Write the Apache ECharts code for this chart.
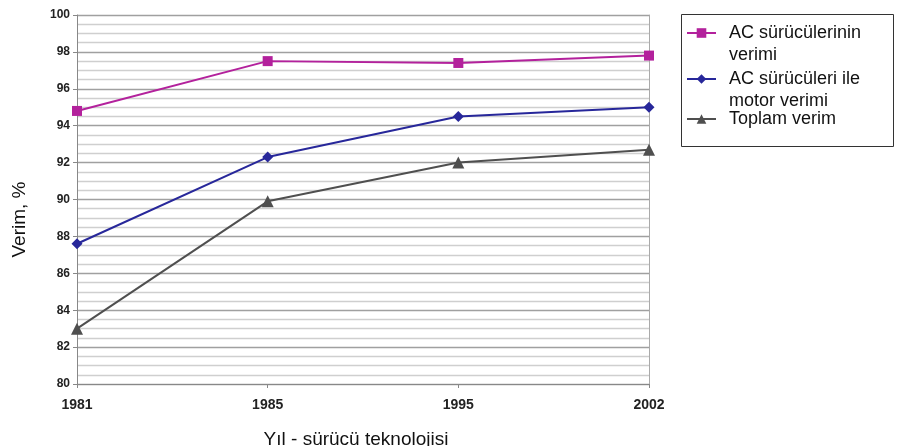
<!DOCTYPE html>
<html>
<head>
<meta charset="utf-8">
<script src="https://cdn.jsdelivr.net/npm/echarts@6/dist/echarts.min.js"></script>
<style>
  html, body { margin: 0; padding: 0; background: #fff; }
  #chart { width: 899px; height: 446px; }
</style>
</head>
<body>
<div id="chart"></div>
<script>
// Efficiency of AC drives over the years
const years = ['1981', '1985', '1995', '2002'];
const seriesNames = ['AC sürücülerinin verimi', 'AC sürücüleri ile motor verimi', 'Toplam verim'];
const legendLines = [
  ['AC sürücülerinin', 'verimi'],
  ['AC sürücüleri ile', 'motor verimi'],
  ['Toplam verim']
];
const driveEff = [94.8, 97.5, 97.4, 97.8];
const driveMotorEff = [87.6, 92.3, 94.5, 95.0];
const totalEff = [83.0, 89.9, 92.0, 92.7];
const yMin = 80, yMax = 100, yStep = 2;

const FONT = '"Liberation Sans", Arial, sans-serif';
const colors = ['#b3219c', '#27279a', '#4f4f4f'];
const symbols = ['rect', 'diamond', 'triangle'];
const symbolSizes = [10, 11, 12];
const values = [driveEff, driveMotorEff, totalEff];

// Legend text is centred on its icon, so a blank line above (and below for
// single-line entries) keeps the first line level with the icon.
function legendText(i) {
  const lines = legendLines[i];
  return lines.length > 1 ? '\n' + lines.join('\n') : '\n' + lines[0] + '\n';
}

const chart = echarts.init(document.getElementById('chart'), null, { renderer: 'canvas' });
chart.setOption({
  animation: false,
  backgroundColor: '#ffffff',
  grid: { left: 77, right: 250, top: 15, bottom: 62, containLabel: false, outerBoundsMode: 'none' },
  legend: {
    orient: 'vertical',
    left: 686,
    top: 0,
    padding: 0,
    itemGap: -20,
    itemWidth: 29,
    itemHeight: 12,
    selectedMode: false,
    data: seriesNames.map((n, i) => ({
      name: n,
      textStyle: { lineHeight: legendLines[i].length > 1 ? 22 : 18 }
    })),
    formatter: name => legendText(seriesNames.indexOf(name)),
    textStyle: { fontFamily: FONT, fontSize: 18, color: '#111', lineHeight: 22, padding: [0, 0, 0, 8] }
  },
  graphic: [{
    type: 'rect',
    shape: { x: 681.5, y: 14.5, width: 212, height: 132 },
    style: { fill: 'none', stroke: '#333', lineWidth: 1 }
  }],
  xAxis: {
    type: 'category',
    data: years,
    boundaryGap: false,
    name: 'Yıl - sürücü teknolojisi',
    nameLocation: 'middle',
    nameGap: 46,
    nameTextStyle: { fontFamily: FONT, fontSize: 19, color: '#111', padding: [0, 14, 0, 0] },
    axisLine: { lineStyle: { color: '#888', width: 1 } },
    axisTick: { show: true, alignWithLabel: true, length: 4, lineStyle: { color: '#888' } },
    axisLabel: { fontFamily: FONT, fontSize: 14, fontWeight: 'bold', color: '#222', margin: 14 },
    splitLine: { show: false }
  },
  yAxis: [{
    type: 'value',
    min: yMin,
    max: yMax,
    interval: yStep,
    name: 'Verim, %',
    nameLocation: 'middle',
    nameGap: 48,
    nameRotate: 90,
    nameTextStyle: { fontFamily: FONT, fontSize: 19, color: '#111', padding: [0, 40, 0, 0] },
    axisLine: { show: true, lineStyle: { color: '#888', width: 1 } },
    axisTick: { show: true, length: 4, lineStyle: { color: '#888' } },
    axisLabel: { fontFamily: FONT, fontSize: 12, fontWeight: 'bold', color: '#222', margin: 7 },
    splitLine: { show: true, lineStyle: { color: '#a0a0a0', width: 1.4 } },
    minorTick: { show: false, splitNumber: 4 },
    minorSplitLine: { show: true, lineStyle: { color: '#cfcfcf', width: 1.4 } }
  }, {
    // right edge of the plot frame
    type: 'value',
    min: yMin,
    max: yMax,
    interval: yStep,
    position: 'right',
    axisLine: { show: true, lineStyle: { color: '#aaa', width: 1 } },
    axisTick: { show: false },
    axisLabel: { show: false },
    splitLine: { show: false }
  }],
  series: seriesNames.map((n, i) => ({
    name: n,
    type: 'line',
    data: values[i],
    symbol: symbols[i],
    symbolSize: symbolSizes[i],
    lineStyle: { color: colors[i], width: 2 },
    itemStyle: { color: colors[i] },
    z: 3 + (2 - i)
  }))
});
</script>
</body>
</html>
